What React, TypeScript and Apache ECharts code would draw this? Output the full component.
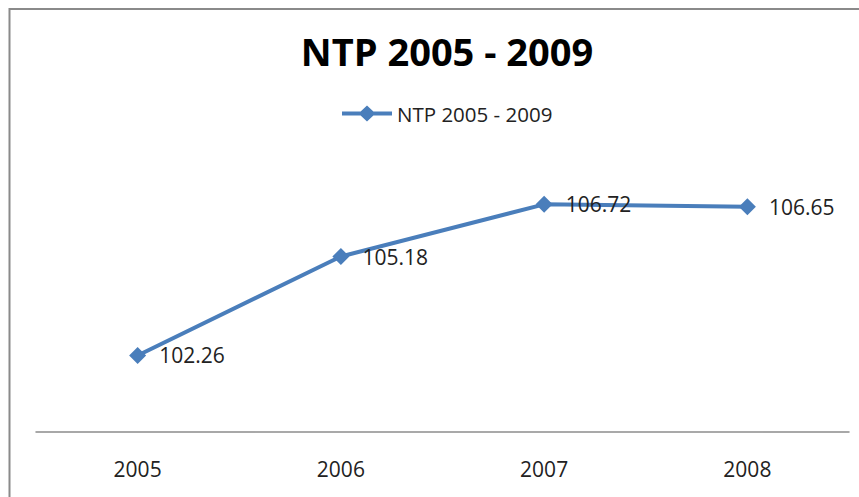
import React, { useEffect, useRef } from "react";
import * as echarts from "echarts";

const categories = ["2005", "2006", "2007", "2008"];
const values = [102.26, 105.18, 106.72, 106.65];
const seriesName = "NTP 2005 - 2009";
const titleText = "NTP 2005 - 2009";

export default function App() {
  const ref = useRef<HTMLDivElement>(null);
  useEffect(() => {
    document.body.style.margin = "0";
    if (!ref.current) return;
    const chart = echarts.init(ref.current, undefined, { renderer: "svg" });
    const font = "'Open Sans', 'Noto Sans', sans-serif";
    chart.setOption({
      animation: false,
      backgroundColor: "#ffffff",
      title: {
        text: titleText,
        left: 442,
        textAlign: "center",
        top: 27,
        textStyle: { fontFamily: font, fontSize: 38, fontWeight: "bold", color: "#000" },
      },
      legend: {
        data: [
          {
            name: seriesName,
            icon: "path://M0,6 L18.6,6 L25,0 L31.4,6 L50,6 L50,10 L31.4,10 L25,16 L18.6,10 L0,10 Z",
          },
        ],
        left: 337,
        top: 98,
        itemWidth: 50,
        itemHeight: 16,
        itemGap: 4,
        textStyle: { fontFamily: font, fontSize: 20.5, color: "#222" },
      },
      graphic: [
        {
          type: "polyline",
          shape: { points: [[9.5, 497], [9.5, 9], [859, 9]] },
          style: { stroke: "#8a8a8a", lineWidth: 2, fill: "none" },
          silent: true,
        },
      ],
      grid: { left: 36, right: 10, top: 161, bottom: 65, containLabel: false },
      xAxis: {
        type: "category",
        data: categories,
        boundaryGap: true,
        axisLine: { show: true, lineStyle: { color: "#8c8c8c", width: 1.5 } },
        axisTick: { show: false },
        axisLabel: { fontFamily: font, fontSize: 21, color: "#222", margin: 26 },
      },
      yAxis: {
        type: "value",
        min: 100,
        max: 108,
        interval: 2,
        show: false,
        splitLine: { show: false },
      },
      series: [
        {
          name: seriesName,
          type: "line",
          data: values,
          symbol: "diamond",
          symbolSize: 17,
          itemStyle: { color: "#4a7ebb" },
          lineStyle: { color: "#4a7ebb", width: 4 },
          label: {
            show: true,
            position: "right",
            distance: 13,
            fontFamily: font,
            fontSize: 21,
            color: "#222",
            formatter: (p: any) => p.value.toFixed(2),
          },
        },
      ],
    });
    return () => chart.dispose();
  }, []);
  return <div ref={ref} style={{ width: 859, height: 497 }} />;
}
